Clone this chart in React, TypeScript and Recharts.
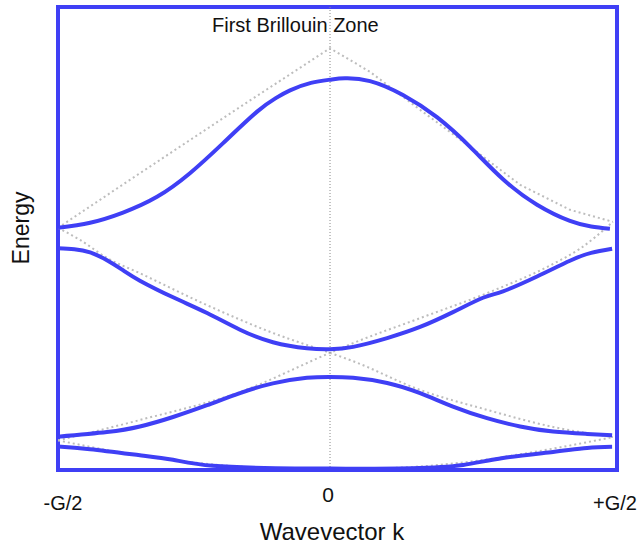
import { LineChart, Line, XAxis, YAxis, ReferenceLine, ReferenceArea } from 'recharts';

// k in units of G/2, energy in arbitrary units (0 = bottom of the box, 100 = top)
const tickValues = [-1, 0, 1.055];
const tickLabels = ['-G/2', '0', '+G/2'];

// energy bands (blue)
const band1K = [-1, -0.882, -0.699, -0.577, -0.43, -0.2, 0, 0.3, 0.489, 0.636, 0.82, 0.945, 1.037];
const band1E = [5.1, 4.5, 3.2, 2.2, 0.9, 0.4, 0.3, 0.4, 1.1, 2.6, 3.9, 4.75, 5.0];

const band2K = [-1, -0.82, -0.699, -0.577, -0.452, -0.331, -0.21, -0.085, 0, 0.085, 0.21, 0.331, 0.452, 0.577, 0.699, 0.82, 0.945, 1.037];
const band2E = [7.2, 8.2, 9.4, 11.45, 14.0, 16.6, 18.7, 19.9, 20.1, 19.9, 18.8, 16.6, 13.7, 11.2, 9.4, 8.3, 7.8, 7.5];

const band3K = [-1, -0.94, -0.882, -0.82, -0.76, -0.699, -0.577, -0.452, -0.331, -0.21, -0.085, 0, 0.085, 0.21, 0.331, 0.452, 0.5625, 0.636, 0.761, 0.882, 0.96, 1.037];
const band3E = [47.9, 47.7, 47.0, 45.3, 43.1, 40.9, 37.3, 33.9, 30.3, 27.6, 26.3, 26.1, 26.6, 28.5, 30.9, 34.1, 37.2, 38.6, 41.8, 45.2, 46.9, 47.8];

const band4K = [-1, -0.882, -0.761, -0.636, -0.515, -0.393, -0.268, -0.2, -0.147, -0.07, 0, 0.055, 0.147, 0.268, 0.393, 0.515, 0.636, 0.761, 0.882, 0.96, 1.029];
const band4E = [52.3, 53.4, 55.6, 59.0, 64.1, 70.6, 77.4, 80.3, 82.0, 83.6, 84.3, 84.6, 84.0, 81.0, 76.2, 69.8, 62.8, 57.3, 53.8, 52.6, 52.1];

// free electron curves (gray dotted)
const free0K = [-1, -0.75, -0.5, -0.25, 0, 0.25, 0.5, 0.75, 1.04];
const free0E = [6.4, 3.6, 1.6, 0.5, 0.2, 0.5, 1.7, 3.9, 7.1];

const freeUpK = [-1, -0.699, -0.331, 0, 0.085, 0.331, 0.577, 0.82, 0.919, 1.04];
const freeUpE = [6.4, 10.8, 16.85, 25.3, 27.4, 32.8, 38.2, 44.5, 47.8, 53.6];

const freeDownK = [-1, -0.919, -0.82, -0.699, -0.452, -0.21, 0, 0.085, 0.331, 0.577, 0.82, 1.04];
const freeDownE = [52.3, 49.7, 45.8, 42.5, 35.6, 29.6, 25.3, 23.5, 17.3, 13.0, 9.3, 7.1];

const freeTopK = [-1, -0.699, -0.331, 0, 0.147, 0.331, 0.515, 0.699, 0.882, 1.04];
const freeTopE = [52.3, 64.1, 78.4, 91.1, 86.0, 77.8, 69.8, 61.6, 56.2, 53.6];

const BLUE = '#3f3ff5';
const GRAY = '#bdbdbd';
const FONT = '"Liberation Sans", Arial, sans-serif';

const toPoints = (ks: number[], es: number[]) => ks.map((k, i) => ({ k, e: es[i] }));

const bands = [
  toPoints(band1K, band1E),
  toPoints(band2K, band2E),
  toPoints(band3K, band3E),
  toPoints(band4K, band4E),
];

const freeCurves = [
  { data: toPoints(free0K, free0E), type: 'monotone' },
  { data: toPoints(freeUpK, freeUpE), type: 'monotone' },
  { data: toPoints(freeDownK, freeDownE), type: 'monotone' },
  { data: toPoints(freeTopK, freeTopE), type: 'linear' },
];

const KTick = (props: any) => {
  const { x, payload } = props;
  const idx = tickValues.indexOf(payload.value);
  const label = tickLabels[idx];
  const isZero = payload.value === 0;
  const dx = idx === 0 ? 5 : -2;
  return (
    <text
      x={x + dx}
      y={isZero ? 502 : 510}
      textAnchor="middle"
      fontFamily={FONT}
      fontSize={isZero ? 21 : 20}
      fill="#111"
    >
      {label}
    </text>
  );
};

export default function App() {
  return (
    <div style={{ position: 'absolute', left: 0, top: 0, background: '#fff' }}>
      <LineChart width={638} height={544} margin={{ top: 7, right: 21, bottom: 44, left: 58 }}>
        <XAxis
          type="number"
          dataKey="k"
          domain={[-1, 1.055]}
          ticks={tickValues}
          allowDataOverflow
          axisLine={false}
          tickLine={false}
          height={30}
          tick={<KTick />}
        />
        <YAxis type="number" domain={[0, 100]} hide allowDataOverflow />

        {freeCurves.map((c, i) => (
          <Line
            key={`free-${i}`}
            data={c.data}
            dataKey="e"
            type={c.type as any}
            stroke={GRAY}
            strokeWidth={2}
            strokeDasharray="2 3"
            dot={false}
            isAnimationActive={false}
          />
        ))}

        <ReferenceLine x={0} stroke="#8a8a8a" strokeWidth={1} strokeDasharray="1 2" />

        {bands.map((b, i) => (
          <Line
            key={`band-${i}`}
            data={b}
            dataKey="e"
            type="natural"
            stroke={BLUE}
            strokeWidth={4}
            dot={false}
            isAnimationActive={false}
          />
        ))}

        <ReferenceArea
          x1={-1}
          x2={1.055}
          y1={0}
          y2={100}
          fill="none"
          stroke={BLUE}
          strokeWidth={4}
          ifOverflow="visible"
        />

        <text x={212} y={32} fontFamily={FONT} fontSize={20} fill="#111">
          First Brillouin Zone
        </text>
        <text
          x={29}
          y={228}
          transform="rotate(-90 29 228)"
          textAnchor="middle"
          fontFamily={FONT}
          fontSize={23}
          fill="#111"
        >
          Energy
        </text>
        <text x={332} y={540} textAnchor="middle" fontFamily={FONT} fontSize={24} fill="#111">
          Wavevector k
        </text>
      </LineChart>
    </div>
  );
}
